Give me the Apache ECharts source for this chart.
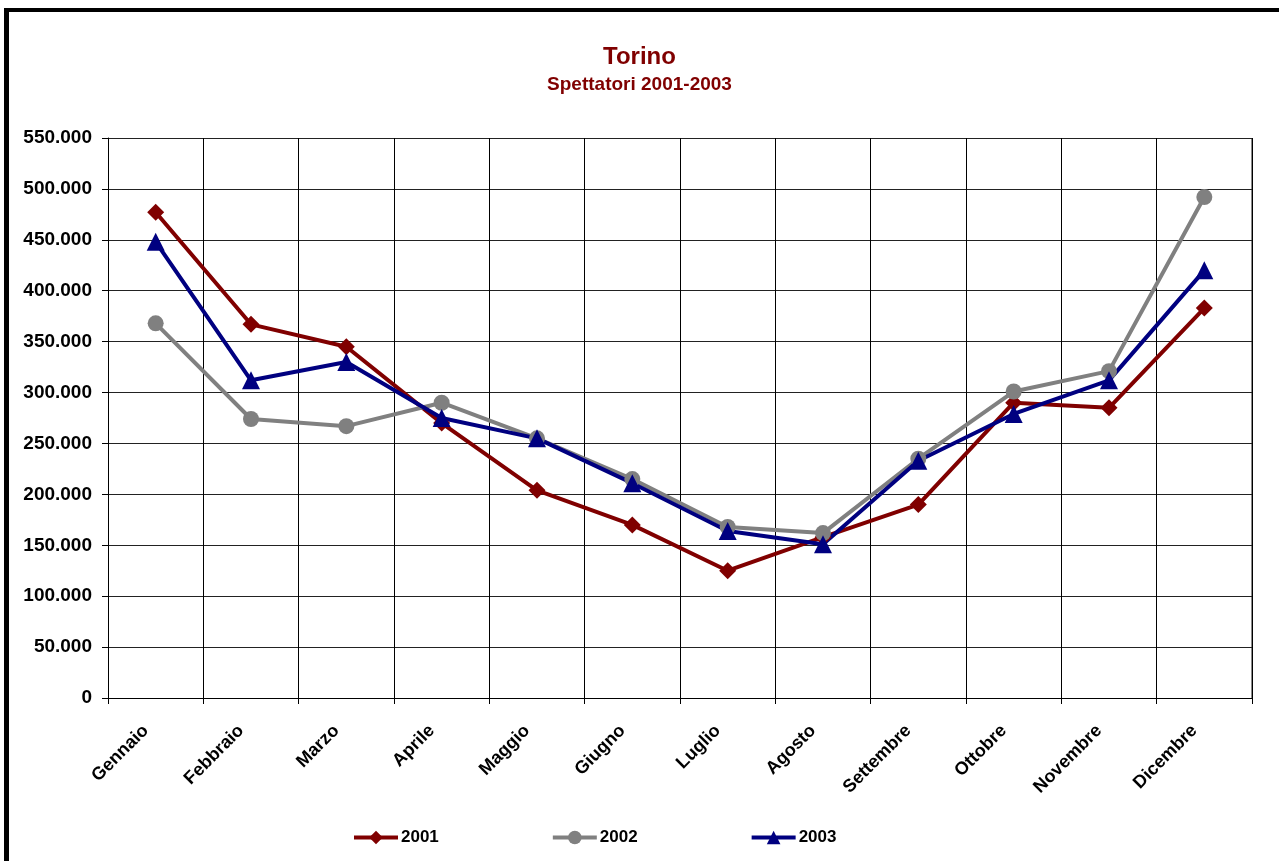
<!DOCTYPE html>
<html>
<head>
<meta charset="utf-8">
<script src="https://cdn.jsdelivr.net/npm/echarts@6/dist/echarts.min.js"></script>
<style>
  html, body { margin: 0; padding: 0; background: #fff; overflow: hidden; }
  #frame { position: absolute; left: 4px; top: 8px; width: 1300px; height: 900px; border-left: 5px solid #000; border-top: 4px solid #000; }
  #torinoChart { position: absolute; left: 0; top: 0; width: 1279px; height: 861px; }
</style>
</head>
<body>
<div id="frame"></div>
<div id="torinoChart"></div>
<script>
// mesi
const mesi = ['Gennaio', 'Febbraio', 'Marzo', 'Aprile', 'Maggio', 'Giugno', 'Luglio', 'Agosto', 'Settembre', 'Ottobre', 'Novembre', 'Dicembre'];
// spettatori per anno
const anno2001 = [477000, 367000, 345000, 270000, 204000, 170000, 125000, 158000, 190000, 290000, 285000, 383000];
const anno2002 = [368000, 274000, 267000, 290000, 255000, 215000, 168000, 162000, 235000, 301000, 321000, 492000];
const anno2003 = [448000, 312000, 330000, 275000, 255000, 211000, 164000, 151000, 233000, 279000, 312000, 420000];

const fontBase = 'Liberation Sans, Arial, sans-serif';

function fmt(v) {
    return String(v).replace(/\B(?=(\d{3})+(?!\d))/g, '.');
}

const chart = echarts.init(document.getElementById('torinoChart'));
const option = {
    animation: false,
    title: {
        text: 'Torino',
        subtext: 'Spettatori 2001-2003',
        left: 'center',
        top: 40,
        itemGap: 6,
        textStyle: { fontFamily: fontBase, fontSize: 24, fontWeight: 'bold', color: '#800000' },
        subtextStyle: { fontFamily: fontBase, fontSize: 19, fontWeight: 'bold', color: '#800000' }
    },
    legend: {
        left: 352,
        top: 829,
        padding: 0,
        itemWidth: 44,
        itemHeight: 17,
        itemGap: 112,
        lineStyle: { width: 4 },
        textStyle: { fontFamily: fontBase, fontSize: 17, fontWeight: 'bold', color: '#000', padding: [0, 0, 0, -2] },
        data: ['2001', '2002', '2003']
    },
    grid: {
        left: 108,
        right: 27,
        top: 138,
        bottom: 163
    },
    xAxis: {
        type: 'category',
        data: mesi,
        boundaryGap: true,
        axisLine: { lineStyle: { color: '#000', width: 1 } },
        axisTick: { show: true, length: 6, lineStyle: { color: '#000' } },
        axisLabel: {
            rotate: 45,
            margin: 20,
            padding: [0, 14, 0, 0],
            fontFamily: fontBase,
            fontSize: 18,
            fontWeight: 'bold',
            color: '#000'
        },
        splitLine: { show: true, lineStyle: { color: '#000', width: 1 } }
    },
    yAxis: {
        type: 'value',
        min: 0,
        max: 550000,
        interval: 50000,
        axisLine: { show: true, lineStyle: { color: '#000', width: 1 } },
        axisTick: { show: true, length: 6, lineStyle: { color: '#000' } },
        axisLabel: {
            margin: 16,
            fontFamily: fontBase,
            fontSize: 19,
            fontWeight: 'bold',
            color: '#000',
            formatter: fmt
        },
        splitLine: { show: true, lineStyle: { color: '#222', width: 1 } }
    },
    graphic: [{
        type: 'line',
        shape: { x1: 1252, y1: 138, x2: 1252, y2: 698 },
        style: { stroke: '#888', lineWidth: 2 }
    }],
    series: [
        {
            name: '2001',
            type: 'line',
            data: anno2001,
            symbol: 'diamond',
            symbolSize: 17,
            lineStyle: { color: '#800000', width: 4 },
            itemStyle: { color: '#800000' }
        },
        {
            name: '2002',
            type: 'line',
            data: anno2002,
            symbol: 'circle',
            symbolSize: 16,
            lineStyle: { color: '#808080', width: 4 },
            itemStyle: { color: '#808080' }
        },
        {
            name: '2003',
            type: 'line',
            data: anno2003,
            symbol: 'triangle',
            symbolSize: 18,
            lineStyle: { color: '#000080', width: 4 },
            itemStyle: { color: '#000080' }
        }
    ]
};
option && chart.setOption(option);
</script>
</body>
</html>
